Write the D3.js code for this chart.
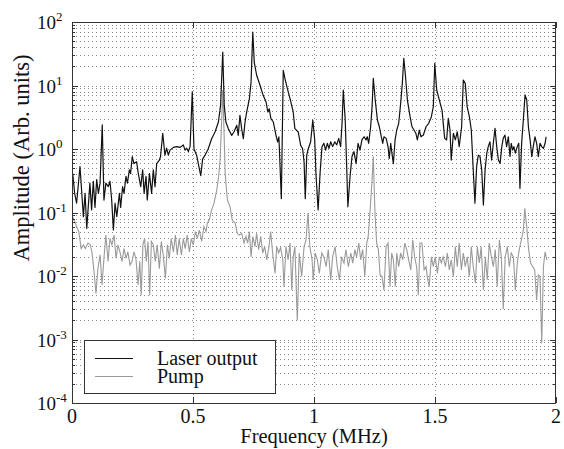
<!DOCTYPE html>
<html>
<head>
<meta charset="utf-8">
<script src="https://d3js.org/d3.v7.min.js"></script>
<style>
  body { margin: 0; background: #fff; }
</style>
</head>
<body>
<div id="container"></div>
<script type="text/javascript">

var width = 564, height = 449;
var margin = {left: 72, right: 8, top: 22, bottom: 46};
var serif = "'Liberation Serif'";

// laser output spectrum (MHz, arb. units)
var laserFreq = [0.003,0.011,0.019,0.033,0.047,0.054,0.061,0.074,0.081,0.088,0.095,0.102,0.109,0.116,0.125,0.132,0.140,0.150,0.157,0.164,
  0.171,0.178,0.185,0.196,0.201,0.209,0.215,0.223,0.229,0.237,0.242,0.249,0.256,0.267,0.274,0.284,0.292,0.298,0.306,0.311,
  0.320,0.329,0.336,0.343,0.350,0.361,0.366,0.375,0.384,0.391,0.398,0.405,0.419,0.433,0.446,0.460,0.467,0.474,0.481,0.488,
  0.497,0.504,0.515,0.526,0.532,0.540,0.550,0.563,0.577,0.591,0.605,0.614,0.623,0.629,0.636,0.646,0.660,0.669,0.681,0.687,
  0.694,0.701,0.708,0.715,0.722,0.733,0.740,0.747,0.753,0.763,0.777,0.790,0.802,0.809,0.815,0.822,0.832,0.843,0.850,0.855,
  0.865,0.873,0.880,0.890,0.901,0.914,0.921,0.935,0.945,0.953,0.959,0.964,0.970,0.976,0.986,0.995,1.003,1.008,1.017,1.025,
  1.033,1.041,1.048,1.055,1.062,1.069,1.077,1.086,1.094,1.102,1.110,1.116,1.121,1.129,1.135,1.140,1.149,1.157,1.165,1.174,
  1.182,1.190,1.198,1.207,1.215,1.220,1.226,1.234,1.240,1.245,1.253,1.262,1.270,1.278,1.284,1.289,1.298,1.306,1.311,1.317,
  1.322,1.328,1.335,1.342,1.350,1.358,1.365,1.371,1.377,1.386,1.397,1.405,1.413,1.421,1.427,1.435,1.442,1.452,1.463,1.474,
  1.485,1.493,1.499,1.507,1.518,1.529,1.540,1.548,1.555,1.562,1.567,1.576,1.584,1.592,1.600,1.610,1.617,1.625,1.633,1.642,
  1.650,1.658,1.665,1.672,1.679,1.686,1.693,1.700,1.707,1.714,1.720,1.727,1.734,1.741,1.748,1.755,1.762,1.769,1.776,1.782,
  1.789,1.796,1.803,1.810,1.815,1.821,1.826,1.832,1.840,1.846,1.851,1.858,1.865,1.872,1.879,1.886,1.893,1.900,1.906,1.913,
  1.920,1.927,1.934,1.941,1.948,1.955,1.959];
var laserAmp = [0.41,0.20,0.14,0.53,0.086,0.20,0.056,0.29,0.11,0.31,0.12,0.33,0.20,0.29,2.4,0.157,0.29,0.255,0.31,0.157,
  0.053,0.14,0.086,0.20,0.12,0.255,0.20,0.37,0.29,0.47,0.41,0.76,0.59,0.63,0.41,0.255,0.47,0.20,0.37,0.157,
  0.41,0.20,0.47,0.255,0.59,0.67,0.76,1.77,0.80,1.03,0.80,0.96,1.06,1.09,1.06,1.16,0.96,1.03,0.91,1.09,
  8.0,1.0,0.80,0.49,0.38,0.70,0.80,1.01,1.45,1.85,2.66,4.9,33.7,4.9,2.66,2.09,1.64,1.85,2.36,1.64,
  3.39,2.09,1.45,2.66,3.83,6.2,11.4,69.6,23.4,14.5,10.1,7.0,5.5,3.83,4.3,3.0,2.66,1.64,1.29,1.55,
  0.165,17.3,12.8,8.9,6.2,3.83,2.09,1.85,1.14,1.01,0.62,0.165,0.8,1.0,1.29,2.86,1.39,0.41,0.11,0.41,
  1.09,1.23,0.96,1.23,1.02,1.30,1.09,1.30,1.16,1.47,1.09,2.54,8.5,2.86,0.53,0.123,0.37,0.76,0.91,0.59,
  1.23,0.96,1.39,1.56,1.39,1.56,1.23,2.24,4.6,13,5.9,2.86,2.24,1.56,1.23,1.56,1.47,1.09,0.71,1.23,
  0.86,0.59,1.39,1.99,2.54,5.2,10.8,26.8,15.6,5.9,3.23,2.24,1.99,1.77,1.39,1.99,1.56,1.66,2.24,2.54,
  3.23,4.6,22.3,8.5,5.9,4.1,1.47,1.39,3.04,1.99,0.67,1.77,1.39,1.87,1.09,2.24,12.2,10.8,4.6,3.23,
  1.99,0.47,0.14,0.53,0.80,0.76,0.47,0.131,0.47,0.86,1.09,1.30,0.67,1.23,2.11,1.09,0.67,0.59,1.09,1.47,
  1.66,1.09,1.56,0.76,1.23,0.96,1.09,0.86,1.09,1.23,0.24,1.23,2.86,7.1,5.9,2.24,1.39,0.76,1.09,1.56,
  1.23,0.76,1.23,1.09,1.02,1.23,1.56];

// pump spectrum
var pumpFreq = [0.003,0.028,0.038,0.047,0.055,0.066,0.076,0.083,0.091,0.099,0.107,0.116,0.124,0.132,0.140,0.149,0.157,0.165,0.174,0.182,
  0.190,0.198,0.207,0.215,0.223,0.231,0.240,0.248,0.256,0.264,0.273,0.280,0.286,0.293,0.300,0.307,0.314,0.321,0.328,0.336,
  0.344,0.352,0.361,0.369,0.377,0.386,0.394,0.402,0.410,0.419,0.427,0.435,0.443,0.452,0.460,0.468,0.476,0.485,0.493,0.501,
  0.510,0.518,0.526,0.536,0.545,0.554,0.559,0.567,0.577,0.587,0.598,0.606,0.612,0.617,0.623,0.628,0.633,0.642,0.653,0.662,
  0.674,0.683,0.691,0.701,0.711,0.719,0.726,0.733,0.740,0.747,0.756,0.763,0.771,0.780,0.788,0.796,0.805,0.814,0.821,0.829,
  0.839,0.846,0.854,0.862,0.871,0.876,0.884,0.893,0.901,0.908,0.914,0.921,0.931,0.939,0.949,0.959,0.967,0.975,0.983,0.992,
  0.997,1.005,1.014,1.022,1.032,1.041,1.050,1.059,1.069,1.077,1.087,1.096,1.105,1.114,1.124,1.132,1.142,1.152,1.160,1.169,
  1.176,1.185,1.193,1.201,1.210,1.218,1.224,1.231,1.240,1.245,1.252,1.259,1.266,1.273,1.281,1.289,1.298,1.306,1.314,1.321,
  1.328,1.336,1.342,1.350,1.358,1.367,1.375,1.383,1.391,1.400,1.408,1.416,1.424,1.431,1.438,1.446,1.455,1.463,1.468,1.476,
  1.485,1.493,1.501,1.510,1.518,1.526,1.534,1.543,1.551,1.559,1.567,1.576,1.584,1.592,1.600,1.609,1.617,1.625,1.633,1.642,
  1.650,1.658,1.667,1.675,1.683,1.691,1.700,1.708,1.716,1.724,1.733,1.741,1.749,1.757,1.766,1.774,1.782,1.790,1.799,1.807,
  1.815,1.824,1.832,1.840,1.848,1.857,1.865,1.871,1.879,1.887,1.895,1.904,1.912,1.920,1.927,1.934,1.941,1.948,1.955,1.962];
var pumpAmp = [0.085,0.050,0.027,0.031,0.027,0.033,0.031,0.023,0.0118,0.0053,0.013,0.0215,0.0072,0.019,0.044,0.017,0.039,0.031,0.044,0.019,
  0.031,0.024,0.017,0.027,0.019,0.024,0.0149,0.017,0.024,0.019,0.0072,0.017,0.005,0.031,0.039,0.017,0.035,0.005,0.035,0.031,
  0.017,0.031,0.013,0.035,0.0215,0.0092,0.031,0.019,0.039,0.024,0.044,0.0215,0.039,0.0215,0.039,0.027,0.044,0.024,0.039,0.031,
  0.050,0.039,0.053,0.035,0.060,0.050,0.068,0.076,0.11,0.14,0.226,0.37,0.67,1.99,8.5,2.0,0.41,0.157,0.124,0.076,
  0.068,0.047,0.044,0.047,0.033,0.042,0.033,0.050,0.020,0.042,0.029,0.047,0.026,0.042,0.023,0.029,0.018,0.029,0.050,0.023,
  0.011,0.029,0.023,0.028,0.018,0.0068,0.029,0.018,0.033,0.006,0.020,0.029,0.002,0.023,0.0098,0.029,0.037,0.097,0.029,0.018,
  0.0087,0.023,0.018,0.011,0.023,0.020,0.014,0.026,0.0087,0.020,0.029,0.014,0.0087,0.020,0.016,0.026,0.014,0.023,0.016,0.026,
  0.020,0.033,0.018,0.026,0.0098,0.033,0.042,0.097,0.325,0.76,0.097,0.033,0.026,0.0104,0.0098,0.006,0.029,0.033,0.0068,0.023,
  0.018,0.0068,0.023,0.014,0.023,0.018,0.033,0.026,0.018,0.0125,0.037,0.020,0.014,0.005,0.033,0.033,0.0125,0.014,0.0098,0.0068,
  0.020,0.014,0.020,0.011,0.020,0.016,0.020,0.014,0.023,0.0125,0.018,0.0098,0.029,0.014,0.033,0.0125,0.023,0.014,0.020,0.0098,
  0.029,0.014,0.0078,0.029,0.016,0.029,0.006,0.020,0.0087,0.033,0.020,0.014,0.026,0.0068,0.037,0.020,0.003,0.020,0.029,0.014,
  0.023,0.020,0.006,0.016,0.026,0.037,0.053,0.116,0.060,0.026,0.016,0.014,0.0125,0.0042,0.0104,0.0098,0.00087,0.014,0.024,0.018];

var xTicks = [0, 0.5, 1, 1.5, 2];
var yExps = [-4, -3, -2, -1, 0, 1, 2];
var legendNames = ["Laser output", "Pump"];
var lineColors = ["#111", "#9a9a9a"];

var svg = d3.select('#container')
  .append('svg')
  .attr('width', width)
  .attr('height', height);

var x = d3.scaleLinear().domain([0, 2]).range([margin.left, width - margin.right]);
var y = d3.scaleLog().domain([1e-4, 1e2]).range([height - margin.bottom, margin.top]);

var x0 = x.range()[0], x1 = x.range()[1];
var y0 = y.range()[0], y1 = y.range()[1];

// minor decade values for grid / ticks
var minorVals = [];
yExps.slice(0, -1).forEach(function(e){
  for (var m = 2; m <= 9; m++) minorVals.push(m * Math.pow(10, e));
});
var majorVals = yExps.map(function(e){ return Math.pow(10, e); });

var grid = svg.append('g')
  .attr('stroke', '#8a8a8a')
  .attr('stroke-width', 1)
  .attr('stroke-dasharray', '1,3');

grid.selectAll('line.h')
  .data(minorVals.concat(majorVals.slice(1, -1)))
  .enter().append('line')
  .attr('x1', x0).attr('x2', x1)
  .attr('y1', function(d){ return Math.round(y(d)) + 0.5; })
  .attr('y2', function(d){ return Math.round(y(d)) + 0.5; });

grid.selectAll('line.v')
  .data(xTicks.slice(1, -1))
  .enter().append('line')
  .attr('y1', y0).attr('y2', y1)
  .attr('x1', function(d){ return Math.round(x(d)) + 0.5; })
  .attr('x2', function(d){ return Math.round(x(d)) + 0.5; });

// series
var line = d3.line()
  .x(function(d){ return x(d[0]); })
  .y(function(d){ return y(d[1]); });

var pumpData = pumpFreq.map(function(f, i){ return [f, pumpAmp[i]]; });
var laserData = laserFreq.map(function(f, i){ return [f, laserAmp[i]]; });

svg.append('path')
  .datum(pumpData)
  .attr('fill', 'none')
  .attr('stroke', lineColors[1])
  .attr('stroke-width', 1.1)
  .attr('d', line);

svg.append('path')
  .datum(laserData)
  .attr('fill', 'none')
  .attr('stroke', lineColors[0])
  .attr('stroke-width', 1.2)
  .attr('stroke-linejoin', 'round')
  .attr('d', line);

// frame
svg.append('rect')
  .attr('x', x0 + 0.5).attr('y', y1 + 0.5)
  .attr('width', x1 - x0 - 1).attr('height', y0 - y1)
  .attr('fill', 'none')
  .attr('stroke', '#333')
  .attr('stroke-width', 1);

// inward ticks
var ticks = svg.append('g').attr('stroke', '#333').attr('stroke-width', 1);
minorVals.forEach(function(v){
  var yy = Math.round(y(v)) + 0.5;
  ticks.append('line').attr('x1', x0).attr('x2', x0 + 3).attr('y1', yy).attr('y2', yy);
  ticks.append('line').attr('x1', x1 - 3).attr('x2', x1).attr('y1', yy).attr('y2', yy);
});
majorVals.forEach(function(v){
  var yy = Math.round(y(v)) + 0.5;
  ticks.append('line').attr('x1', x0).attr('x2', x0 + 6).attr('y1', yy).attr('y2', yy);
  ticks.append('line').attr('x1', x1 - 6).attr('x2', x1).attr('y1', yy).attr('y2', yy);
});
xTicks.forEach(function(v){
  var xx = Math.round(x(v)) + 0.5;
  ticks.append('line').attr('x1', xx).attr('x2', xx).attr('y1', y0).attr('y2', y0 - 6);
  ticks.append('line').attr('x1', xx).attr('x2', xx).attr('y1', y1).attr('y2', y1 + 6);
});

// x tick labels
svg.selectAll('text.xt')
  .data(xTicks)
  .enter().append('text')
  .attr('x', function(d){ return x(d); })
  .attr('y', y0 + 20)
  .attr('text-anchor', 'middle')
  .style('font-family', serif)
  .style('font-size', '20px')
  .style('fill', '#111')
  .text(function(d){ return d; });

// y tick labels 10^n
var yl = svg.selectAll('text.yt')
  .data(yExps)
  .enter().append('text')
  .attr('x', 37)
  .attr('y', function(d){ return y(Math.pow(10, d)) + 7; })
  .style('font-family', serif)
  .style('font-size', '19px')
  .style('fill', '#111');
yl.append('tspan').text('10');
yl.append('tspan')
  .attr('dy', -8)
  .style('font-size', '13px')
  .text(function(d){ return d < 0 ? '-' + Math.abs(d) : d; });

// axis titles
svg.append('text')
  .attr('x', 314).attr('y', 443)
  .attr('text-anchor', 'middle')
  .style('font-family', serif)
  .style('font-size', '20.5px')
  .style('fill', '#111')
  .text('Frequency (MHz)');

svg.append('text')
  .attr('transform', 'translate(29,158) rotate(-90)')
  .attr('text-anchor', 'middle')
  .style('font-family', serif)
  .style('font-size', '22.5px')
  .style('fill', '#111')
  .text('Amplitude (Arb. units)');

// legend
var lg = svg.append('g');
lg.append('rect')
  .attr('x', 84.5).attr('y', 340.5)
  .attr('width', 191).attr('height', 53)
  .attr('fill', '#fff')
  .attr('stroke', '#333');
legendNames.forEach(function(name, i){
  var yy = 358.5 + i * 18;
  lg.append('line')
    .attr('x1', 95).attr('x2', 133)
    .attr('y1', yy).attr('y2', yy)
    .attr('stroke', lineColors[i])
    .attr('stroke-width', 1.2);
  lg.append('text')
    .attr('x', 157).attr('y', yy + 6.5)
    .style('font-family', serif)
    .style('font-size', '20px')
    .style('fill', '#111')
    .text(name);
});

</script>
</body>
</html>
